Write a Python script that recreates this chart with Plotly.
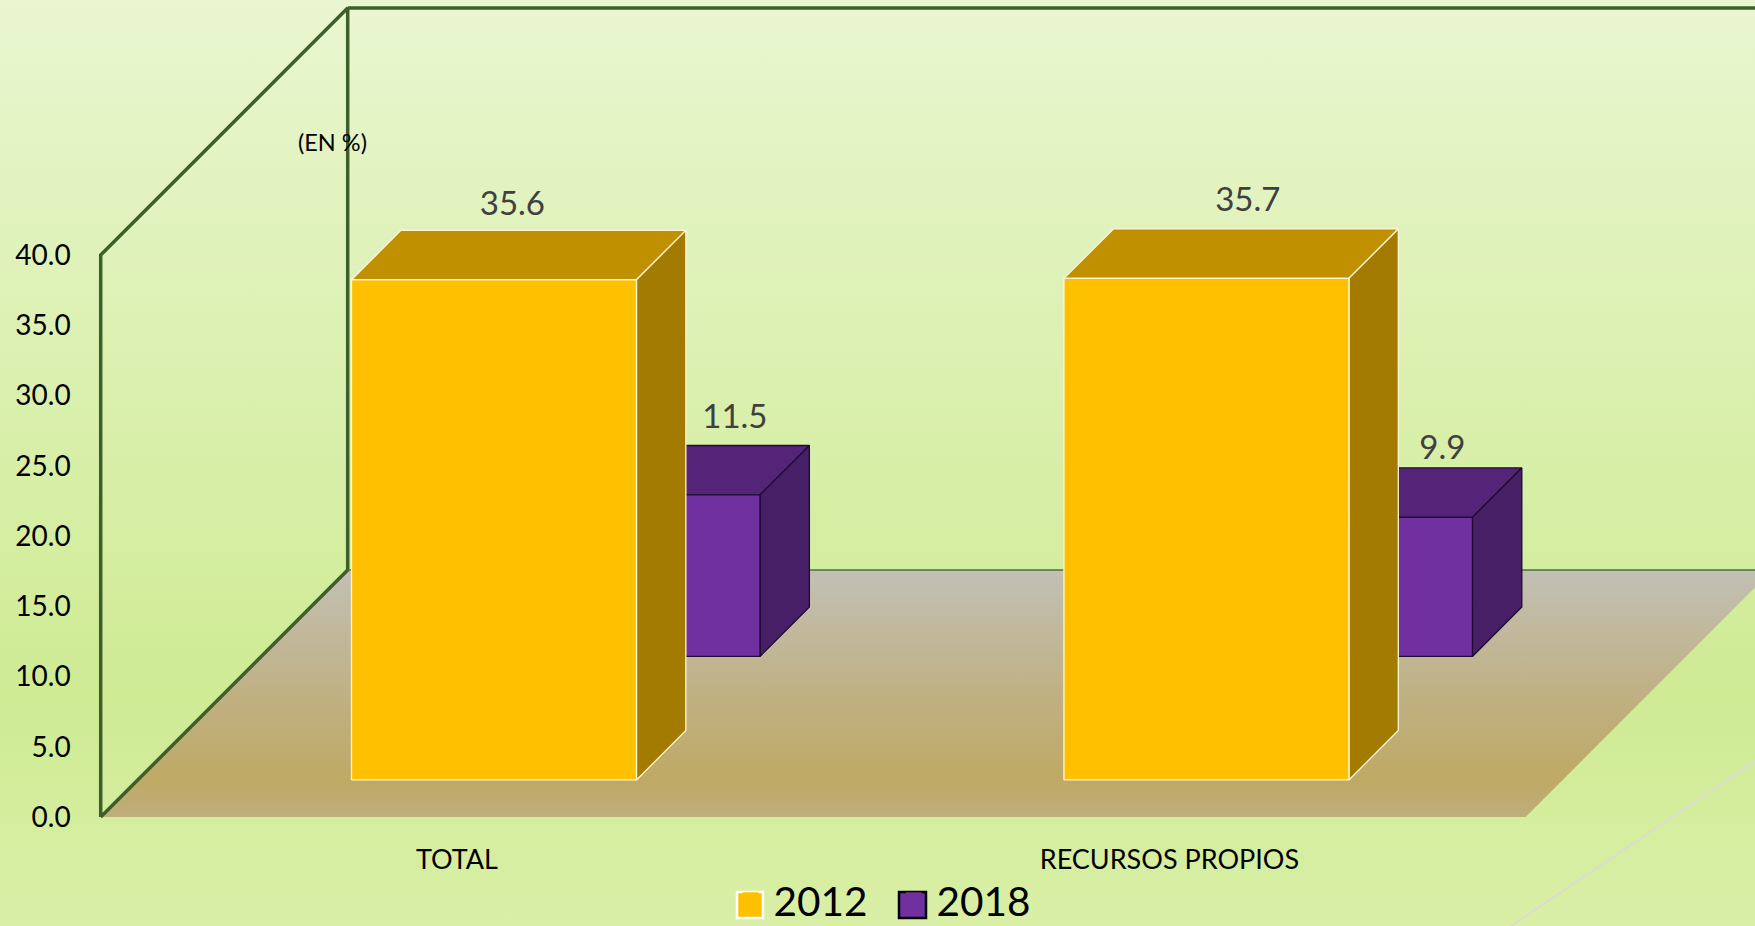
import plotly.graph_objects as go

# --- data ---
categories = ["TOTAL", "RECURSOS PROPIOS"]
series_names = ["2012", "2018"]
values_2012 = [35.6, 35.7]
values_2018 = [11.5, 9.9]
y_ticks = [0, 5, 10, 15, 20, 25, 30, 35, 40]

# --- geometry of the mock 3D view ---
W, H = 1755, 926
PX_PER_CAT = 712.45
PX_PER_VAL = 14.05
AXIS_LEFT_PX = 100.7
AXIS_ZERO_PX = 817.0
DEPTH_PX = 247.0
DX = DEPTH_PX / PX_PER_CAT
DY = DEPTH_PX / PX_PER_VAL
BAR_W = 0.40
X0 = -0.5 - AXIS_LEFT_PX / PX_PER_CAT
X1 = -0.5 + (W - AXIS_LEFT_PX) / PX_PER_CAT
Y0 = -(H - AXIS_ZERO_PX) / PX_PER_VAL
Y1 = AXIS_ZERO_PX / PX_PER_VAL
SLOT = 0.5
BOX = SLOT * 0.4
FRONT = [(SLOT - BOX) / 2, SLOT + (SLOT - BOX) / 2]

# label nudges from the centre of the back top edge (px right, px up)
label_nudge = {"2012": [(-31, 23.5), (-8, 26.5)], "2018": [(68, 25.5), (63, 17.5)]}


def proj(x, d, v):
    return x + d * DX, v + d * DY


def poly(points):
    xs, ys = zip(*[proj(*p) for p in points])
    return list(xs) + [xs[0]], list(ys) + [ys[0]]


def faces(values, d0):
    d1 = d0 + BOX
    out = {"front": ([], []), "top": ([], []), "side": ([], [])}
    for i, v in enumerate(values):
        l, r = i - BAR_W / 2, i + BAR_W / 2
        shapes = {
            "front": [(l, d0, 0), (r, d0, 0), (r, d0, v), (l, d0, v)],
            "top": [(l, d0, v), (r, d0, v), (r, d1, v), (l, d1, v)],
            "side": [(r, d0, 0), (r, d1, 0), (r, d1, v), (r, d0, v)],
        }
        for k, pts in shapes.items():
            xs, ys = poly(pts)
            out[k][0].extend(xs + [None])
            out[k][1].extend(ys + [None])
    return out


def filled(xy, color, edge, width=1.3):
    return go.Scatter(x=xy[0], y=xy[1], mode="lines", fill="toself", fillcolor=color,
                      line=dict(color=edge, width=width), hoverinfo="skip", showlegend=False)


fig = go.Figure()

# background
fig.add_trace(go.Scatter(
    x=[X0, X1, X1, X0, X0], y=[Y0, Y0, Y1, Y1, Y0], mode="lines", fill="toself",
    line=dict(width=0), hoverinfo="skip", showlegend=False,
    fillgradient=dict(type="vertical", start=Y1, stop=Y0,
                      colorscale=[[0, "#e9f6d0"], [0.75, "#cfeb94"], [1, "#d9efa6"]])))

# floor
fx, fy = poly([(-0.5, 0, 0), (1.5, 0, 0), (1.5, 1, 0), (-0.5, 1, 0)])
fig.add_trace(go.Scatter(
    x=fx, y=fy, mode="lines", fill="toself", line=dict(width=0), hoverinfo="skip", showlegend=False,
    fillgradient=dict(type="vertical", start=DY, stop=0,
                      colorscale=[[0, "#c2c0b5"], [0.5, "#c0b184"], [0.85, "#bfa965"], [1, "#bfae7d"]])))

# walls
wx, wy = poly([(-0.5, 0, 0), (-0.5, 0, 40), (-0.5, 1, 40), (-0.5, 1, 0)])
fig.add_trace(go.Scatter(x=wx, y=wy, mode="lines", line=dict(color="#3f5f2a", width=3.5),
                         hoverinfo="skip", showlegend=False))
tx, ty = zip(proj(-0.5, 1, 40), proj(1.5, 1, 40))
fig.add_trace(go.Scatter(x=tx, y=ty, mode="lines", line=dict(color="#3f5f2a", width=3.5),
                         hoverinfo="skip", showlegend=False))
bx, by = zip(proj(-0.5, 1, 0), proj(1.5, 1, 0))
fig.add_trace(go.Scatter(x=bx, y=by, mode="lines", line=dict(color="#4f6f38", width=1.5),
                         hoverinfo="skip", showlegend=False))

# bars, back series first
f = faces(values_2018, FRONT[1])
fig.add_trace(filled(f["top"], "#532478", "#1e0c30"))
fig.add_trace(filled(f["side"], "#471f66", "#1e0c30"))
fig.add_trace(filled(f["front"], "#7030a0", "#1e0c30"))
f = faces(values_2012, FRONT[0])
fig.add_trace(filled(f["top"], "#c09000", "#fff6d8"))
fig.add_trace(filled(f["side"], "#a37b00", "#fff6d8"))
fig.add_trace(filled(f["front"], "#ffc000", "#fff6d8"))

# data labels
for name, vals, d0 in (("2012", values_2012, FRONT[0]), ("2018", values_2018, FRONT[1])):
    lx, ly, lt = [], [], []
    for i, v in enumerate(vals):
        px, py = proj(i, d0 + BOX, v)
        nx, ny = label_nudge[name][i]
        lx.append(px + nx / PX_PER_CAT)
        ly.append(py + ny / PX_PER_VAL)
        lt.append(f"{v:.1f}")
    fig.add_trace(go.Scatter(x=lx, y=ly, text=lt, mode="text", textposition="middle center",
                             textfont=dict(family="Lato", size=33, color="#404040"),
                             hoverinfo="skip", showlegend=False))

# legend entries
for name, color in zip(series_names, ["#ffc000", "#7030a0"]):
    fig.add_trace(go.Scatter(x=[None], y=[None], mode="markers", name=name,
                             marker=dict(symbol="square", size=16, color=color, line=dict(width=0))))


def swatch(x0, x1, color, edge):
    return dict(type="rect", xref="paper", yref="paper", x0=x0 / W, x1=x1 / W,
                y0=1 - 918 / H, y1=1 - 892 / H, fillcolor=color, line=dict(color=edge, width=2.5),
                layer="above")


fig.update_layout(
    width=W, height=H, margin=dict(l=0, r=0, t=0, b=0, autoexpand=False), autosize=False,
    paper_bgcolor="#d9efa6", plot_bgcolor="rgba(0,0,0,0)",
    font=dict(family="Lato", color="#000000"),
    xaxis=dict(range=[X0, X1], showgrid=False, zeroline=False, showline=False,
               tickmode="array", tickvals=[0, 1], ticktext=categories,
               tickfont=dict(size=27), ticks="", ticklabelstandoff=24,
               anchor="free", position=(H - AXIS_ZERO_PX) / H),
    yaxis=dict(range=[Y0, Y1], showgrid=False, zeroline=False, showline=False,
               tickmode="array", tickvals=y_ticks, ticktext=[f"{t:.1f}" for t in y_ticks],
               tickfont=dict(size=28), ticks="", ticklabelstandoff=30,
               anchor="free", position=AXIS_LEFT_PX / W),
    legend=dict(orientation="h", x=0.4146, xanchor="left", y=-0.008, yanchor="bottom",
                font=dict(family="Lato", size=40.5, color="#000000"),
                bgcolor="rgba(0,0,0,0)", itemwidth=36, entrywidth=112, entrywidthmode="pixels",
                traceorder="normal"),
    annotations=[dict(text="(EN %)", xref="paper", yref="paper", x=332 / W, y=1 - 142 / H,
                      xanchor="center", yanchor="middle",
                      showarrow=False, font=dict(family="Lato", size=23.5, color="#000000"))],
    shapes=[dict(type="line", xref="paper", yref="paper", x0=1, y0=1 - 761 / H,
                 x1=1511 / W, y1=0, line=dict(color="#dcdcd0", width=2), layer="above"),
            swatch(737, 763, "#ffc000", "#ffffff"),
            swatch(899, 926, "#7030a0", "#000000")],
)
fig.write_html("out.html", config=dict(displayModeBar=False), post_script=(
    "document.body.style.margin='0';document.documentElement.style.overflow='hidden';"))
